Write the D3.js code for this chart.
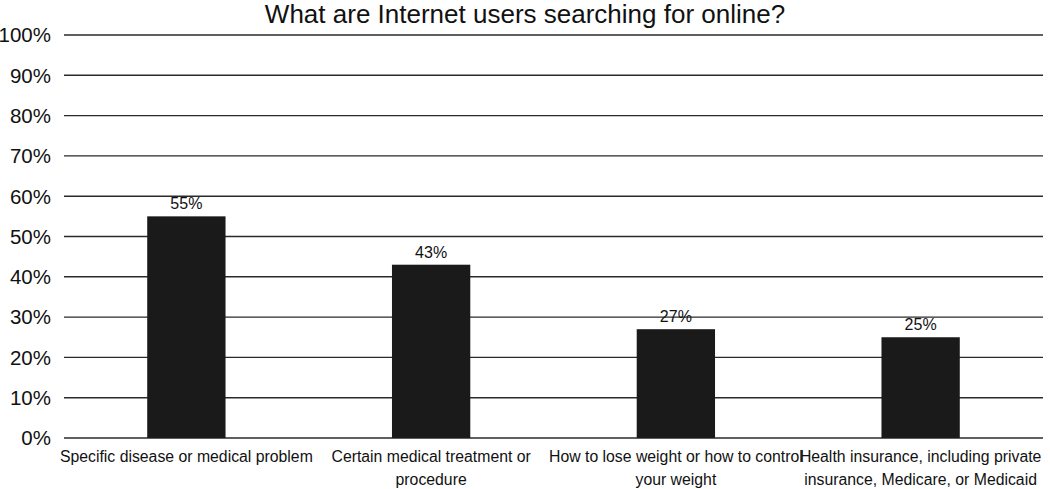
<!DOCTYPE html>
<html>
<head>
<meta charset="utf-8">
<script src="https://cdn.jsdelivr.net/npm/d3@7"></script>
<style>
  body { margin: 0; background: #fff; }
  svg { display: block; font-family: "Liberation Sans", Arial, sans-serif; }
</style>
</head>
<body>
<div id="chart"></div>
<script>
var categories = ['Specific disease or medical problem',
                  'Certain medical treatment or\nprocedure',
                  'How to lose weight or how to control\nyour weight',
                  'Health insurance, including private\ninsurance, Medicare, or Medicaid']
var values = [55, 43, 27, 25]
var ticks = [0, 10, 20, 30, 40, 50, 60, 70, 80, 90, 100]
var title = 'What are Internet users searching for online?'

var width = 1050
var height = 489
var margin = {top: 35, right: 7, bottom: 51, left: 64}

var svg = d3.select('#chart')
  .append('svg')
    .attr('width', width)
    .attr('height', height)

var g = svg.append('g')
  .attr('transform', 'translate(' + margin.left + ',' + margin.top + ')')

var w = width - margin.left - margin.right
var h = height - margin.top - margin.bottom

var x = d3.scaleBand()
  .domain(categories)
  .range([0, w])
  .padding(0)

var y = d3.scaleLinear()
  .domain([0, 100])
  .range([h, 0])

// gridlines
g.selectAll('line.grid')
  .data(ticks)
  .enter().append('line')
    .attr('class', 'grid')
    .attr('x1', 0)
    .attr('x2', w)
    .attr('y1', function(d) { return y(d) })
    .attr('y2', function(d) { return y(d) })
    .attr('stroke', '#2a2a2a')
    .attr('stroke-width', 1.4)

// y tick labels
g.selectAll('text.ytick')
  .data(ticks)
  .enter().append('text')
    .attr('class', 'ytick')
    .attr('x', -13)
    .attr('y', function(d) { return y(d) })
    .attr('dy', '0.36em')
    .attr('text-anchor', 'end')
    .style('font-size', '20.5px')
    .attr('fill', '#111')
    .text(function(d) { return d + '%' })

var barW = x.bandwidth() * 0.32

g.selectAll('rect.bar')
  .data(values)
  .enter().append('rect')
    .attr('class', 'bar')
    .attr('x', function(d, i) { return x(categories[i]) + x.bandwidth() / 2 - barW / 2 })
    .attr('width', barW)
    .attr('y', function(d) { return y(d) })
    .attr('height', function(d) { return h - y(d) })
    .attr('fill', '#1a1a1a')

g.selectAll('text.val')
  .data(values)
  .enter().append('text')
    .attr('class', 'val')
    .attr('x', function(d, i) { return x(categories[i]) + x.bandwidth() / 2 })
    .attr('y', function(d) { return y(d) - 7 })
    .attr('text-anchor', 'middle')
    .style('font-size', '16px')
    .attr('fill', '#111')
    .text(function(d) { return d + '%' })

// category labels
var cl = g.selectAll('text.cat')
  .data(categories)
  .enter().append('text')
    .attr('class', 'cat')
    .attr('text-anchor', 'middle')
    .attr('transform', function(d) { return 'translate(' + (x(d) + x.bandwidth() / 2) + ',' + (h + 24) + ')' })
    .style('font-size', '15.8px')
    .attr('fill', '#111')

cl.selectAll('tspan')
  .data(function(d) { return d.split('\n') })
  .enter().append('tspan')
    .attr('x', 0)
    .attr('y', function(d, i) { return i * 23 })
    .text(function(d) { return d })

svg.append('text')
  .attr('x', width / 2)
  .attr('y', 23)
  .attr('text-anchor', 'middle')
  .style('font-size', '26px')
  .attr('fill', '#111')
  .text(title)
</script>
</body>
</html>
